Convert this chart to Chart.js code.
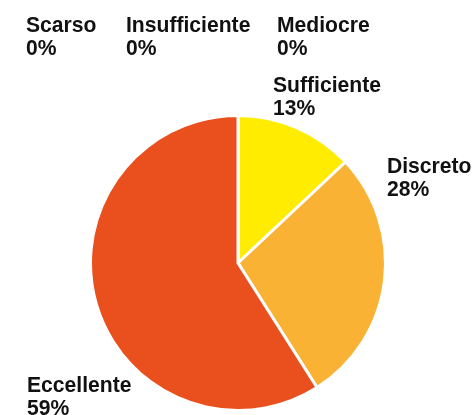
<!DOCTYPE html>
<html>
<head>
<meta charset="utf-8">
<script src="https://cdn.jsdelivr.net/npm/chart.js@4"></script>
<style>
  html, body { margin: 0; padding: 0; background: #fff; }
  #wrap { width: 476px; height: 415px; }
</style>
</head>
<body>
<div id="wrap"><canvas id="pieChart" width="476" height="415"></canvas></div>
<script>
const labels = ["Scarso", "Insufficiente", "Mediocre", "Sufficiente", "Discreto", "Eccellente"];
const values = [0, 0, 0, 13, 28, 59];
const colors = ["#E9501E", "#E9501E", "#E9501E", "#FFEC00", "#F9B233", "#E9501E"];

// where each label sits (left x, first baseline y)
const labelPos = [[26, 32], [126, 32], [277, 32], [273, 92], [387, 173], [27, 392]];

const labelPlugin = {
    id: 'sliceLabels',
    afterDraw(chart) {
        const ctx = chart.ctx;
        ctx.save();
        ctx.fillStyle = '#111';
        ctx.font = 'bold 22px "Liberation Sans", Arial, sans-serif';
        ctx.textAlign = 'left';
        ctx.textBaseline = 'alphabetic';
        labels.forEach((name, i) => {
            const [x, y] = labelPos[i];
            ctx.save();
            ctx.translate(x, y);
            ctx.scale(0.96, 1); // the original font is a bit condensed
            ctx.fillText(name, 0, 0);
            ctx.fillText(values[i] + '%', 0, 23);
            ctx.restore();
        });
        ctx.restore();
    }
};

new Chart(document.getElementById('pieChart'), {
    type: 'pie',
    data: {
        labels: labels,
        datasets: [{
            data: values,
            backgroundColor: colors,
            borderColor: '#fff',
            borderWidth: 3
        }]
    },
    options: {
        responsive: false,
        animation: false,
        layout: { padding: { left: 89, right: 89, top: 114, bottom: 3 } },
        plugins: {
            legend: { display: false },
            tooltip: { enabled: false }
        }
    },
    plugins: [labelPlugin]
});
</script>
</body>
</html>
